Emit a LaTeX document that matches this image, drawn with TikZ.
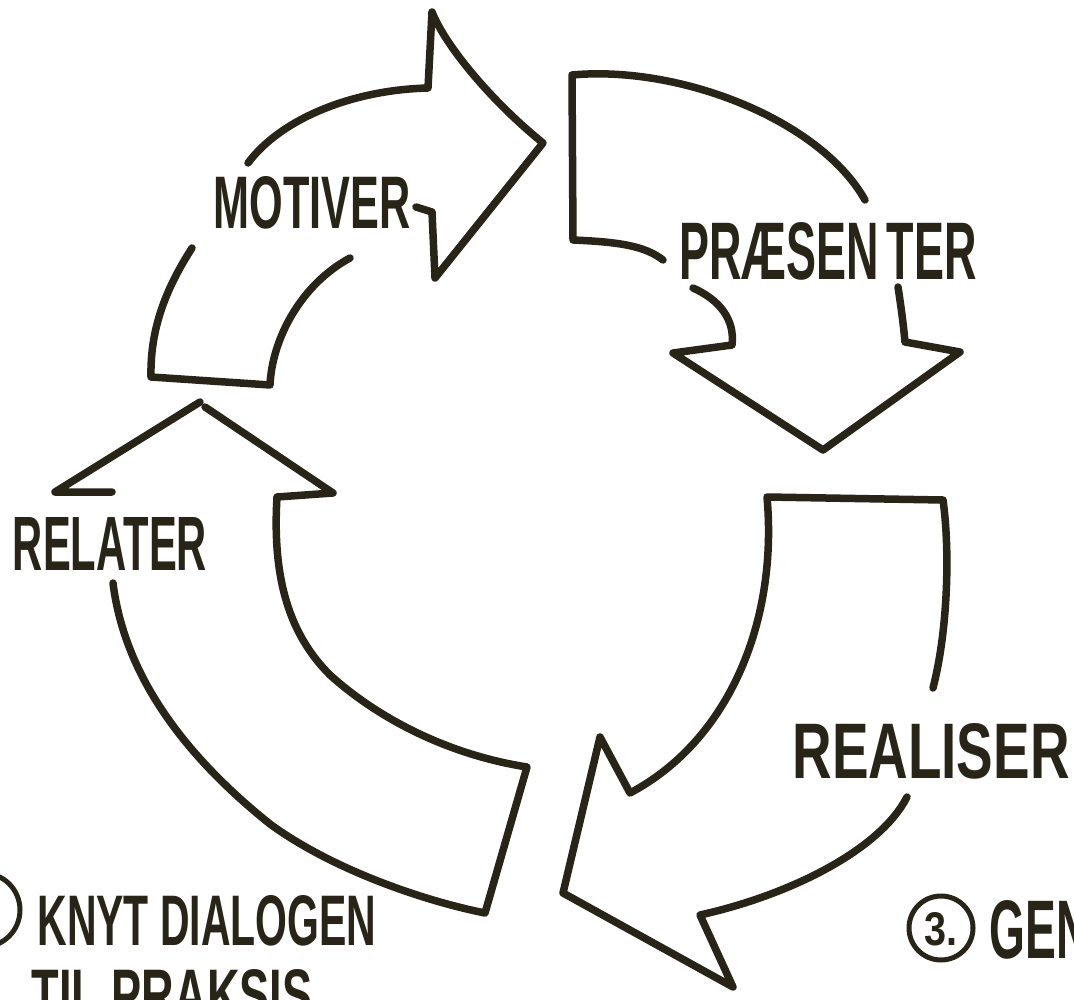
\documentclass[tikz,border=0pt]{standalone}
\usepackage{fontspec}
\usepackage{graphicx}
\setmainfont{Liberation Sans}
\definecolor{ink}{RGB}{40,36,24}
\tikzset{
  stroke/.style={draw=ink, line width=7.5pt, line join=round, line cap=round},
  lbl/.style={text=ink, inner sep=0pt, anchor=center, font=\bfseries},
  ring/.style={draw=ink, line width=5pt}
}
\newcommand{\fitted}[3]{\resizebox{#1pt}{#2pt}{#3}}
\begin{document}
\begin{tikzpicture}[x=1pt,y=-1pt]
\useasboundingbox (0,0) rectangle (1074,1000);
\clip (0,0) rectangle (1074,1000);
\fill[white] (0,0) rectangle (1074,1000);

% ---- Arrow 1: MOTIVER (top-left, pointing right)
\draw[stroke] (192,248) .. controls (165,290) and (150,330) .. (151,377)
  -- (270,385) .. controls (272,340) and (300,285) .. (350,258);
\draw[stroke] (248,163) .. controls (280,120) and (350,90) .. (428,88)
  -- (432,12) .. controls (445,45) and (490,100) .. (543,143)
  -- (435,278) -- (432,212) -- (416,207);

% ---- Arrow 2: PRAESENTER (top-right, pointing down)
\draw[stroke] (663,260) .. controls (645,246) and (620,242) .. (573,240)
  -- (572,75) .. controls (680,65) and (820,120) .. (865,200);
\draw[stroke] (693,288) .. controls (720,300) and (735,320) .. (732,345)
  -- (673,353) -- (823,450) -- (960,352) -- (905,342)
  .. controls (903,320) and (900,300) .. (898,287);

% ---- Arrow 3: REALISER (bottom-right, pointing down-left)
\draw[stroke] (933,688) .. controls (948,630) and (950,550) .. (943,500)
  -- (767,497) .. controls (778,620) and (730,740) .. (630,793)
  -- (600,737) -- (563,893) -- (733,987) -- (700,915)
  .. controls (790,895) and (880,850) .. (907,797);

% ---- Arrow 4: RELATER (left, pointing up)
\draw[stroke] (112,492) -- (55,492) -- (200,402);
\draw[stroke] (205,407) -- (333,493) -- (277,497)
  .. controls (272,580) and (290,635) .. (330,675)
  .. controls (380,720) and (450,755) .. (527,767)
  -- (485,913)
  .. controls (420,900) and (330,868) .. (270,824)
  .. controls (190,760) and (125,680) .. (113,583);

% ---- Labels
\node[lbl] (motiver) at (312,203) {\fitted{197}{52}{MOTIVER}};
\node[lbl] (praesenter) at (828,251) {\fitted{297}{57}{PRÆSEN\,TER}};
\node[lbl] (realiser) at (931,751) {\fitted{277}{55}{REALISER}};
\node[lbl] (relater) at (110,544) {\fitted{194}{53}{RELATER}};

% ---- Bottom notes
\node[ring, circle, minimum size=74pt, inner sep=0pt] (c2) at (-17,910) {};
\node[lbl] (n2) at (-17,912) {\fitted{26}{36}{2.}};
\node[lbl] (knyt) at (207,921) {\fitted{339}{50}{KNYT DIALOGEN}};
\node[lbl] (til) at (172,995) {\fitted{281}{50}{TIL PRAKSIS}};

\node[ring, circle, minimum size=64pt, inner sep=0pt] (c3) at (941,928) {};
\node[lbl] (n3) at (941,929) {\fitted{33}{33}{3.}};
\node[lbl] (gen) at (1040,930) {\fitted{100}{58}{GEN}};
\end{tikzpicture}
\end{document}
